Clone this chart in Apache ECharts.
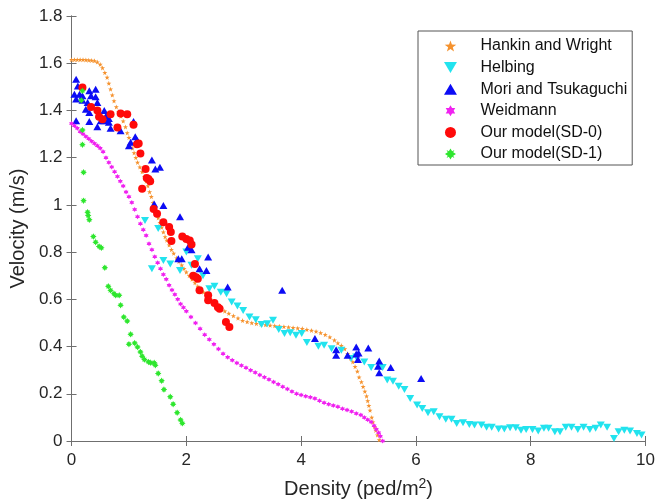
<!DOCTYPE html>
<html><head><meta charset="utf-8">
<script src="https://cdn.jsdelivr.net/npm/echarts@6/dist/echarts.min.js"></script>
<style>html,body{margin:0;padding:0;background:#fff}#c{width:658px;height:504px}</style>
</head><body><div id="c"></div>
<script>
const seriesNames = ['Hankin and Wright','Helbing','Mori and Tsukaguchi','Weidmann','Our model(SD-0)','Our model(SD-1)'];
const xTicks = [0,2,4,6,8,10];
const yTicks = [0,0.2,0.4,0.6,0.8,1,1.2,1.4,1.6,1.8];

const hankin = [[0,1.615],[0.05,1.615],[0.1,1.615],[0.15,1.615],[0.2,1.615],[0.25,1.614],[0.3,1.613],[0.35,1.612],[0.4,1.61],[0.45,1.605],
[0.5,1.595],[0.54,1.58],[0.58,1.56],[0.62,1.54],[0.65,1.515],[0.68,1.49],[0.71,1.465],[0.74,1.44],[0.78,1.415],[0.82,1.395],[0.86,1.375],[0.9,1.355],[0.94,1.33],[0.97,1.305],[1.0,1.285],[1.03,1.26],[1.06,1.24],[1.09,1.22],[1.12,1.2],[1.15,1.18],[1.19,1.16],[1.23,1.14],[1.27,1.12],[1.3,1.1],[1.33,1.08],[1.36,1.055],[1.39,1.035],[1.42,1.01],[1.45,0.99],[1.48,0.965],[1.51,0.945],[1.54,0.925],[1.57,0.905],[1.6,0.885],[1.63,0.865],[1.66,0.85],[1.7,0.83],[1.74,0.81],[1.78,0.795],[1.83,0.775],[1.87,0.76],[1.92,0.745],[1.96,0.73],[2.0,0.715],[2.05,0.7],[2.1,0.685],[2.15,0.67],[2.2,0.655],[2.25,0.64],[2.3,0.63],[2.36,0.615],[2.42,0.6],[2.48,0.585],[2.54,0.57],[2.6,0.56],[2.67,0.55],[2.74,0.54],[2.82,0.53],[2.9,0.52],[2.98,0.51],[3.06,0.505],[3.14,0.5],[3.22,0.497],[3.3,0.494],[3.38,0.492],[3.46,0.49],[3.54,0.488],[3.62,0.486],[3.7,0.484],[3.78,0.482],[3.86,0.48],[3.94,0.478],[4.02,0.476],[4.1,0.472],[4.18,0.468],[4.26,0.464],[4.34,0.458],[4.42,0.45],[4.5,0.44],[4.58,0.427],[4.64,0.415],[4.7,0.404],[4.76,0.39],[4.81,0.37],[4.86,0.35],[4.9,0.335],[4.94,0.315],[4.98,0.295],[5.01,0.27],[5.05,0.25],[5.08,0.23],[5.11,0.21],[5.14,0.19],[5.16,0.17],[5.18,0.15],[5.2,0.13],[5.23,0.1],[5.25,0.08],[5.28,0.06],[5.3,0.045],[5.33,0.025],[5.36,0.005]];

const helbing = [[1.28,0.934],[1.51,0.9],[1.4,0.73],[1.6,0.765],[1.72,0.75],[1.89,0.722],[2.09,0.828],[2.0,0.8],[2.2,0.772],[2.29,0.7],[2.09,0.744],[2.4,0.645],[2.49,0.655],[2.6,0.63],[2.7,0.624],[2.79,0.589],[2.89,0.572],[2.99,0.553],[3.1,0.525],[3.21,0.514],[3.31,0.493],[3.41,0.497],[3.51,0.511],[3.61,0.472],[3.71,0.455],[3.81,0.458],[3.91,0.448],[4.01,0.455],[4.1,0.417],[4.3,0.401],[4.4,0.406],[4.53,0.391],[4.7,0.384],[4.87,0.349],[4.96,0.356],[5.1,0.335],[5.22,0.311],[5.42,0.311],[5.5,0.258],[5.6,0.253],[5.7,0.232],[5.8,0.218],[5.9,0.18],[6.02,0.152],[6.11,0.138],[6.21,0.12],[6.31,0.124],[6.41,0.103],[6.52,0.092],[6.62,0.092],[6.71,0.074],[6.82,0.077],[6.93,0.07],[7.02,0.068],[7.14,0.068],[7.23,0.058],[7.32,0.058],[7.44,0.051],[7.54,0.051],[7.64,0.056],[7.74,0.056],[7.83,0.046],[7.92,0.049],[8.03,0.049],[8.13,0.042],[8.23,0.054],[8.31,0.054],[8.42,0.039],[8.51,0.039],[8.61,0.058],[8.71,0.058],[8.82,0.049],[8.92,0.058],[9.03,0.049],[9.13,0.054],[9.22,0.068],[9.33,0.058],[9.45,0.011],[9.53,0.039],[9.63,0.046],[9.73,0.042],[9.85,0.032],[9.93,0.025]];

const mori = [[0.08,1.532],[0.11,1.504],[0.05,1.469],[0.14,1.469],[0.19,1.462],[0.08,1.448],[0.19,1.443],[0.31,1.483],[0.42,1.49],[0.34,1.462],[0.42,1.458],[0.28,1.434],[0.45,1.434],[0.25,1.405],[0.31,1.391],[0.57,1.4],[0.48,1.384],[0.6,1.377],[0.51,1.356],[0.57,1.356],[0.08,1.356],[0.31,1.353],[0.65,1.366],[0.65,1.35],[0.45,1.331],[0.68,1.325],[0.855,1.314],[1.08,1.353],[1.11,1.289],[1.14,1.274],[1.0,1.25],[1.03,1.265],[1.4,1.19],[1.46,1.152],[1.54,1.159],[1.44,1.004],[1.6,0.997],[1.89,0.95],[2.03,0.821],[2.09,0.81],[1.86,0.772],[1.92,0.772],[2.38,0.779],[2.23,0.73],[2.35,0.722],[2.72,0.652],[3.67,0.638],[4.24,0.434],[4.61,0.387],[4.61,0.363],[4.96,0.398],[4.81,0.363],[4.96,0.368],[5.0,0.373],[4.99,0.345],[5.17,0.394],[5.36,0.339],[5.34,0.317],[5.36,0.289],[5.56,0.311],[6.09,0.265]];

const weidmann = [[0,1.345],[0.05,1.335],[0.1,1.325],[0.15,1.31],[0.2,1.3],[0.25,1.29],[0.3,1.28],[0.35,1.27],[0.4,1.26],[0.45,1.25],[0.5,1.24],[0.55,1.225],[0.6,1.2],[0.65,1.18],[0.7,1.16],[0.75,1.14],[0.8,1.12],[0.85,1.1],[0.9,1.08],[0.95,1.055],[1.0,1.035],[1.05,1.01],[1.1,0.98],[1.15,0.95],[1.2,0.92],[1.25,0.895],[1.3,0.87],[1.35,0.835],[1.4,0.81],[1.45,0.78],[1.5,0.755],[1.55,0.73],[1.6,0.705],[1.65,0.685],[1.7,0.66],[1.75,0.64],[1.8,0.62],[1.85,0.6],[1.9,0.58],[1.95,0.565],[2.0,0.55],[2.08,0.525],[2.16,0.5],[2.24,0.475],[2.32,0.45],[2.4,0.43],[2.48,0.41],[2.56,0.39],[2.64,0.37],[2.72,0.355],[2.8,0.342],[2.88,0.33],[2.96,0.32],[3.04,0.31],[3.12,0.3],[3.2,0.29],[3.28,0.28],[3.36,0.27],[3.44,0.26],[3.52,0.25],[3.6,0.24],[3.68,0.23],[3.76,0.22],[3.84,0.21],[3.92,0.2],[4.0,0.195],[4.08,0.19],[4.16,0.185],[4.24,0.18],[4.32,0.17],[4.4,0.162],[4.48,0.156],[4.56,0.15],[4.64,0.145],[4.72,0.137],[4.8,0.131],[4.88,0.125],[4.96,0.116],[5.04,0.11],[5.1,0.1],[5.16,0.09],[5.22,0.08],[5.27,0.065],[5.31,0.05],[5.35,0.035],[5.38,0.02],[5.42,0.0]];

const sd0 = [[0.19,1.497],[0.34,1.415],[0.45,1.4],[0.48,1.373],[0.54,1.363],[0.68,1.384],[0.855,1.387],[0.97,1.384],[0.8,1.328],[1.08,1.339],[1.14,1.257],[1.17,1.26],[1.2,1.218],[1.29,1.152],[1.31,1.114],[1.34,1.11],[1.37,1.1],[1.23,1.068],[1.43,0.983],[1.49,0.962],[1.6,0.927],[1.7,0.906],[1.73,0.885],[1.74,0.847],[1.93,0.866],[2.0,0.856],[2.06,0.849],[2.09,0.832],[2.15,0.75],[2.12,0.7],[2.17,0.694],[2.2,0.687],[2.23,0.638],[2.38,0.617],[2.38,0.596],[2.49,0.584],[2.55,0.567],[2.58,0.56],[2.69,0.504],[2.75,0.483]];

const sd1 = [[0.19,1.483],[0.17,1.443],[0.19,1.317],[0.19,1.255],[0.21,1.138],[0.21,1.018],[0.28,0.969],[0.29,0.955],[0.31,0.937],[0.38,0.866],[0.42,0.842],[0.48,0.824],[0.52,0.818],[0.58,0.734],[0.64,0.655],[0.68,0.638],[0.74,0.624],[0.77,0.617],[0.83,0.617],[0.855,0.575],[0.91,0.525],[0.97,0.508],[1.03,0.452],[1.0,0.41],[1.1,0.415],[1.15,0.398],[1.2,0.377],[1.23,0.359],[1.27,0.345],[1.34,0.335],[1.38,0.331],[1.44,0.331],[1.46,0.321],[1.51,0.286],[1.57,0.255],[1.61,0.218],[1.72,0.187],[1.77,0.156],[1.84,0.12],[1.9,0.089],[1.93,0.075]];

const pentagram = 'path://M0,-10L2.35,-3.24L9.51,-3.09L3.8,1.24L5.88,8.09L0,4L-5.88,8.09L-3.8,1.24L-9.51,-3.09L-2.35,-3.24Z';
const hexagram = 'path://M0,-10L2.89,-5L8.66,-5L5.77,0L8.66,5L2.89,5L0,10L-2.89,5L-8.66,5L-5.77,0L-8.66,-5L-2.89,-5Z';
const asterisk = 'path://M0,-10L3,-5L7.07,-7.07L5,-3L10,0L5,3L7.07,7.07L3,5L0,10L-3,5L-7.07,7.07L-5,3L-10,0L-5,-3L-7.07,-7.07L-3,-5Z';
const triUp = 'path://M0,-9L10,8L-10,8Z';
const triDown = 'path://M-10,-8L10,-8L0,9Z';

const axisCol = '#6f6f6f';
const textCol = '#262626';
const font = 'Liberation Sans, Arial, sans-serif';

const chart = echarts.init(document.getElementById('c'), null, {renderer:'canvas'});
function mk(name, data, symbol, size, color){
  return {name, type:'scatter', data, symbol, symbolSize:size,
    itemStyle:{color, opacity:1}, emphasis:{disabled:true}, animation:false, z:2};
}
chart.setOption({
  animation:false,
  textStyle:{fontFamily:font},
  grid:{left:67, right:8, top:16, bottom:63, containLabel:false},
  legend:{
    orient:'vertical', left:418, top:31,
    data:seriesNames,
    borderColor:'#555', borderWidth:1, backgroundColor:'#fff',
    padding:[7,5,3,26], itemGap:5.6, itemWidth:50, itemHeight:11,
    textStyle:{fontSize:16, lineHeight:16, color:'#111', fontFamily:font},
    selectedMode:false
  },
  xAxis:[{type:'value', min:0, max:10, interval:2, position:'bottom',
    name:'{a|Density (ped/m}{b|2}{a|)}', nameLocation:'middle', nameGap:36,
    nameTextStyle:{rich:{a:{fontSize:20, color:textCol, fontFamily:font}, b:{fontSize:14, color:textCol, verticalAlign:'top', padding:[0,0,10,0], fontFamily:font}}},
    axisLine:{lineStyle:{color:axisCol, width:1}}, axisTick:{inside:true, length:5, lineStyle:{color:axisCol}},
    axisLabel:{fontSize:17, color:textCol, margin:11, formatter:v=>xTicks.includes(v)?String(v):''}, splitLine:{show:false}},
   {type:'value', min:0, max:10, interval:2, position:'top',
    axisLine:{show:true, lineStyle:{color:axisCol, width:1}}, axisTick:{inside:true, length:5, lineStyle:{color:axisCol}},
    axisLabel:{show:false}, splitLine:{show:false}}],
  yAxis:[{type:'value', min:0, max:1.8, interval:0.2, position:'left',
    name:'Velocity (m/s)', nameLocation:'middle', nameGap:36, nameRotate:90,
    nameTextStyle:{fontSize:20, color:textCol, fontFamily:font},
    axisLine:{show:true, lineStyle:{color:axisCol, width:1}}, axisTick:{inside:true, length:5, lineStyle:{color:axisCol}},
    axisLabel:{fontSize:17, color:textCol, margin:9, formatter:v=>{const t=yTicks.find(k=>Math.abs(k-v)<1e-6);return t===undefined?'':String(t);}}, splitLine:{show:false}},
   {type:'value', min:0, max:1.8, interval:0.2, position:'right',
    axisLine:{show:true, lineStyle:{color:axisCol, width:1}}, axisTick:{inside:true, length:5, lineStyle:{color:axisCol}},
    axisLabel:{show:false}, splitLine:{show:false}}],
  series:[
    mk(seriesNames[0], hankin, pentagram, 5, '#f5922e'),
    mk(seriesNames[1], helbing, triDown, [8,7], '#22e3ee'),
    mk(seriesNames[2], mori, triUp, [8,7], '#0c0cf5'),
    mk(seriesNames[3], weidmann, hexagram, 5, '#f022f0'),
    mk(seriesNames[4], sd0, 'circle', 8, '#ff0a0a'),
    mk(seriesNames[5], sd1, asterisk, 6.5, '#2ee62e')
  ]
});
</script></body></html>
